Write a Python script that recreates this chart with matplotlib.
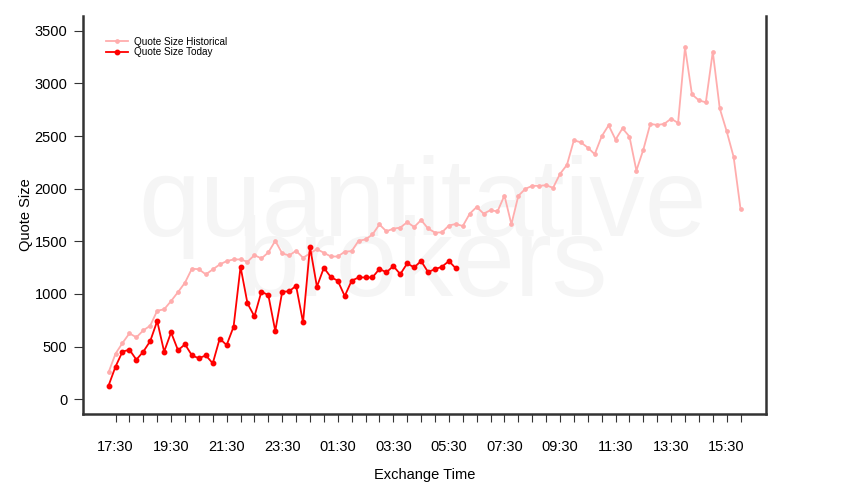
import pandas as pd
import matplotlib
matplotlib.use('Agg')
import matplotlib.pyplot as plt

plt.rcParams['font.family'] = ['Liberation Sans', 'DejaVu Sans']

# 15 minute buckets, starting 17:15 on the first day
start_time = '2014-01-06 17:15'

historical = [256, 433, 534, 626, 588, 654, 699, 841, 854, 933,
              1018, 1107, 1240, 1235, 1186, 1233, 1280, 1312, 1328, 1328,
              1306, 1369, 1337, 1394, 1505, 1385, 1366, 1410, 1344, 1385,
              1426, 1391, 1356, 1356, 1401, 1407, 1505, 1518, 1565, 1660,
              1595, 1620, 1630, 1682, 1636, 1702, 1622, 1583, 1585, 1650,
              1665, 1645, 1762, 1826, 1763, 1796, 1784, 1935, 1662, 1932,
              1998, 2027, 2027, 2033, 2008, 2140, 2226, 2460, 2440, 2390,
              2327, 2497, 2602, 2466, 2573, 2495, 2172, 2371, 2615, 2605,
              2615, 2665, 2624, 3341, 2896, 2839, 2820, 3301, 2763, 2545,
              2302, 1805]

today = [130, 310, 452, 471, 376, 452, 553, 743, 452, 635,
         465, 522, 417, 389, 417, 341, 575, 515, 689, 1258,
         911, 787, 1021, 990, 648, 1021, 1025, 1078, 730, 1448,
         1069, 1249, 1160, 1126, 980, 1126, 1157, 1157, 1157, 1238,
         1205, 1265, 1188, 1290, 1252, 1313, 1208, 1236, 1258, 1313,
         1243]

times = pd.date_range(start_time, periods=len(historical), freq='15min')
tick_times = pd.date_range('2014-01-06 17:30', '2014-01-07 16:00', freq='30min')
tick_labels = [t.strftime('%H:%M') if i % 4 == 0 else '' for i, t in enumerate(tick_times)]
y_ticks = [0, 500, 1000, 1500, 2000, 2500, 3000, 3500]

fig = plt.figure(figsize=(8.5, 5), dpi=100)
ax = fig.add_axes([0.098, 0.172, 0.803, 0.796])

# watermark, two lines in one text
ax.text(0.497, 0.297, 'quantitative\nbrokers', transform=ax.transAxes,
        fontsize=80, color='#f5f5f5', ha='center', va='baseline',
        multialignment='center', linespacing=0.46, zorder=0)

ax.plot(times, historical, color='#ffadad', lw=1.3, marker='o', ms=2.4,
        label='Quote Size Historical', zorder=2)
ax.plot(times[:len(today)], today, color='#ff0000', lw=1.3, marker='o', ms=3.2,
        label='Quote Size Today', zorder=3)

ax.margins(x=0.04)
ax.set_ylim(-140, 3640)
ax.set_yticks(y_ticks)
ax.set_xticks(tick_times)
ax.set_xticklabels(tick_labels)

ax.spines['top'].set_visible(False)
for s in ['left', 'bottom', 'right']:
    ax.spines[s].set_linewidth(1.8)
    ax.spines[s].set_color('#333333')

ax.tick_params(axis='x', direction='out', length=5.5, width=0.8, pad=13,
               labelsize=10.5, color='#333333')
ax.tick_params(axis='y', direction='out', length=6.5, width=0.8, pad=5,
               labelsize=10.5, color='#333333')

ax.set_xlabel('Exchange Time', fontsize=10.5, labelpad=10)
ax.set_ylabel('Quote Size', fontsize=10.5, labelpad=1)

ax.legend(loc='upper left', bbox_to_anchor=(0.02, 0.97), frameon=False,
          fontsize=7.2, handlelength=2.2, labelspacing=0.05, handletextpad=0.6)

fig.savefig('out.png', dpi=100)
